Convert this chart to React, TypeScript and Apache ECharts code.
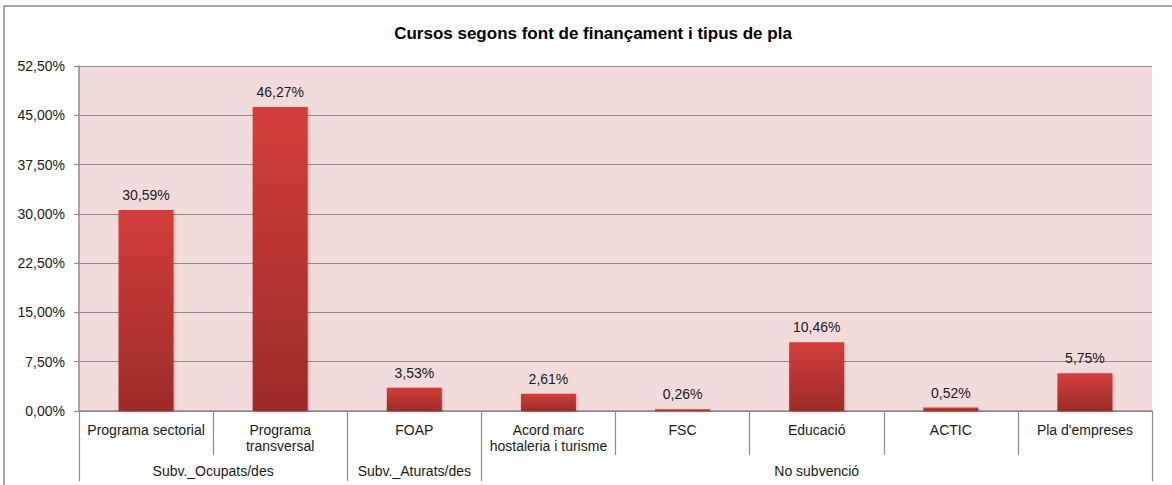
import React, { useEffect, useRef } from "react";
import * as echarts from "echarts";

const TITLE = "Cursos segons font de finançament i tipus de pla";
const categories = [
  "Programa sectorial",
  "Programa\ntransversal",
  "FOAP",
  "Acord marc\nhostaleria i turisme",
  "FSC",
  "Educació",
  "ACTIC",
  "Pla d'empreses",
];
const values = [30.59, 46.27, 3.53, 2.61, 0.26, 10.46, 0.52, 5.75];
const groups = ["Subv._Ocupats/des", "Subv._Aturats/des", "No subvenció"];
const groupSizes = [2, 1, 5];
const yMax = 52.5;
const yInterval = 7.5;

const fmt = (v: number) => v.toFixed(2).replace(".", ",") + "%";

export default function App() {
  const ref = useRef<HTMLDivElement>(null);
  useEffect(() => {
    document.body.style.margin = "0";
    if (!ref.current) return;
    const chart = echarts.init(ref.current, undefined, { renderer: "svg" });

    const bounds: number[] = [0];
    const centers: number[] = [];
    const labelMap: Record<string, string> = {};
    let acc = 0;
    groupSizes.forEach((s, i) => {
      const c = acc + s / 2;
      centers.push(c);
      labelMap[String(c)] = groups[i];
      acc += s;
      bounds.push(acc);
    });

    const textColor = "#1a1a1a";
    const font = "Liberation Sans, Arial, sans-serif";

    chart.setOption({
      animation: false,
      backgroundColor: "#ffffff",
      title: {
        text: TITLE,
        left: 588,
        textAlign: "center",
        top: 20,
        textStyle: {
          fontFamily: font,
          fontSize: 17,
          fontWeight: "bold",
          color: "#000",
        },
      },
      graphic: [
        {
          type: "rect",
          shape: { x: 4, y: 6, width: 1200, height: 520 },
          style: { fill: "none", stroke: "#8c8c8c", lineWidth: 1.5 },
          silent: true,
        },
      ],
      grid: {
        left: 79,
        right: 20,
        top: 66,
        bottom: 74,
        show: true,
        backgroundColor: "#F2DCDB",
        borderWidth: 0,
      },
      xAxis: [
        {
          type: "category",
          data: categories,
          position: "bottom",
          axisLine: { show: true, lineStyle: { color: "#8c8c8c", width: 1.5 } },
          axisTick: {
            show: true,
            interval: 0,
            length: 44,
            alignWithLabel: false,
            lineStyle: { color: "#8c8c8c", width: 1.2 },
          },
          axisLabel: {
            interval: 0,
            margin: 11,
            color: textColor,
            fontFamily: font,
            fontSize: 14,
            lineHeight: 16,
            verticalAlign: "top",
          },
          splitLine: { show: false },
        },
        {
          type: "value",
          min: 0,
          max: categories.length,
          position: "bottom",
          offset: 44,
          axisLine: { show: false },
          splitLine: { show: false },
          axisTick: {
            show: true,
            customValues: bounds,
            length: 26,
            lineStyle: { color: "#8c8c8c", width: 1.2 },
          },
          axisLabel: {
            show: true,
            customValues: centers,
            margin: 9,
            color: textColor,
            fontFamily: font,
            fontSize: 14,
            formatter: (v: number) => labelMap[String(v)] ?? "",
          },
        },
      ],
      yAxis: {
        type: "value",
        min: 0,
        max: yMax,
        interval: yInterval,
        axisLine: { show: true, lineStyle: { color: "#8c8c8c", width: 1.5 } },
        axisTick: { show: true, length: 5, lineStyle: { color: "#8c8c8c", width: 1.2 } },
        axisLabel: {
          margin: 14,
          color: textColor,
          fontFamily: font,
          fontSize: 14,
          formatter: (v: number) => fmt(v),
        },
        splitLine: { show: true, lineStyle: { color: "#8c8c8c", width: 1.2 } },
      },
      series: [
        {
          type: "bar",
          xAxisIndex: 0,
          data: values,
          barWidth: "41%",
          itemStyle: {
            color: new echarts.graphic.LinearGradient(0, 0, 0, 1, [
              { offset: 0, color: "#D33E3B" },
              { offset: 1, color: "#9D2B29" },
            ]),
            shadowColor: "rgba(0,0,0,0.25)",
            shadowBlur: 3,
            shadowOffsetX: 1,
            shadowOffsetY: 1,
          },
          label: {
            show: true,
            position: "top",
            distance: 8,
            color: textColor,
            fontFamily: font,
            fontSize: 14,
            formatter: (p: any) => fmt(p.value),
          },
        },
      ],
    });
    return () => chart.dispose();
  }, []);
  return <div ref={ref} style={{ width: 1172, height: 485 }} />;
}
